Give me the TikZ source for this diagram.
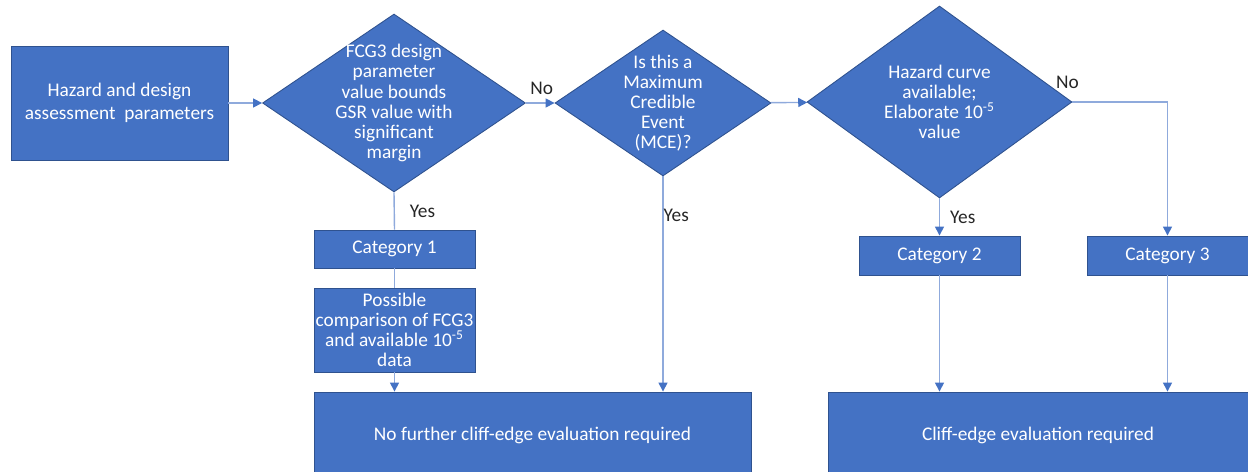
\documentclass[tikz,border=0pt]{standalone}
\usepackage{fontspec}
\setmainfont{Carlito}
\usetikzlibrary{
    arrows.meta,
    positioning,
    shapes.geometric
}
\definecolor{boxblue}{HTML}{4472C4}
\definecolor{edgeblue}{HTML}{2F528F}
\definecolor{linkblue}{HTML}{8FAADC}
\definecolor{labelgrey}{HTML}{262626}

\begin{document}
\begin{tikzpicture}[
        x=0.02cm,
        y=-0.02cm,
        block/.style={
            rectangle,
            draw=edgeblue,
            line width=0.5pt,
            fill=boxblue,
            text=white,
            align=center,
            inner sep=0pt,
            font=\fontsize{11}{13.4}\selectfont
        },
        decision/.style={
            diamond,
            draw=edgeblue,
            line width=0.5pt,
            fill=boxblue,
            text=white,
            align=center,
            inner sep=-0.6cm,
            font=\fontsize{11}{11.4}\selectfont
        },
        line/.style={
            -{Triangle[length=1.8mm,width=1.8mm,color=boxblue]},
            draw=linkblue,
            line width=0.8pt
        },
        plain/.style={
            draw=linkblue,
            line width=0.8pt
        },
        answer/.style={
            text=labelgrey,
            inner sep=0pt,
            font=\fontsize{11}{13}\selectfont
        }
    ]

    \useasboundingbox (0,0) rectangle (1248,472);
    \clip (0,0) rectangle (1248,472);

    \node[block, minimum width=4.34cm, minimum height=2.28cm] (hazard)
        at (119.5,103) {Hazard and design\\assessment~ parameters};

    \node[decision, minimum width=5.26cm, minimum height=3.56cm] (bounds)
        at (394,103) {FCG3 design\\parameter\\value bounds\\GSR value with\\significant\\margin};

    \node[decision, minimum width=4.32cm, minimum height=2.92cm] (mce)
        at (663,103) {Is this a\\Maximum\\Credible\\Event\\(MCE)?};

    \node[decision, minimum width=5.3cm, minimum height=3.84cm] (curve)
        at (939.5,102) {Hazard curve\\available;\\Elaborate 10\textsuperscript{-5}\\value};

    \node[block, minimum width=3.22cm, minimum height=0.76cm] (cat1)
        at (394.5,249) {Category 1};

    \node[block, minimum width=3.22cm, minimum height=1.68cm,
          font=\fontsize{11}{11.4}\selectfont] (compare)
        at (394.5,330) {Possible\\comparison of FCG3\\and available 10\textsuperscript{-5}\\data};

    \node[block, minimum width=3.22cm, minimum height=0.78cm] (cat2)
        at (939.5,255.5) {Category 2};

    \node[block, minimum width=3.22cm, minimum height=0.78cm] (cat3)
        at (1167.5,255.5) {Category 3};

    \node[block, minimum width=8.74cm, minimum height=1.72cm] (nofurther)
        at (532.5,435) {No further cliff-edge evaluation required};

    \node[block, minimum width=8.4cm, minimum height=1.72cm] (cliff)
        at (1038,435) {Cliff-edge evaluation required};

    \draw[line] (hazard) -- (bounds);
    \draw[line]
        (bounds)
        --
        node[answer, pos=0.55, above=0.15cm] {No}
        (mce);
    \draw[line] (mce) -- (curve);
    \draw[line]
        (curve.east)
        -|
        node[answer, pos=0, above=0.25cm, xshift=-0.1cm] {No}
        (cat3.north);

    \draw[plain]
        (bounds.south)
        --
        node[answer, right=0.3cm] {Yes}
        (cat1.north);
    \draw[plain] (cat1) -- (compare);
    \draw[line] (compare.south) -- (compare.south |- nofurther.north);

    \draw[line]
        (mce.south)
        --
        node[answer, pos=0.18, right=0pt] {Yes}
        (mce.south |- nofurther.north);

    \draw[line]
        (curve.south)
        --
        node[answer, right=0.2cm] {Yes}
        (cat2.north);
    \draw[line] (cat2.south) -- (cat2.south |- cliff.north);
    \draw[line] (cat3.south) -- (cat3.south |- cliff.north);

\end{tikzpicture}
\end{document}
